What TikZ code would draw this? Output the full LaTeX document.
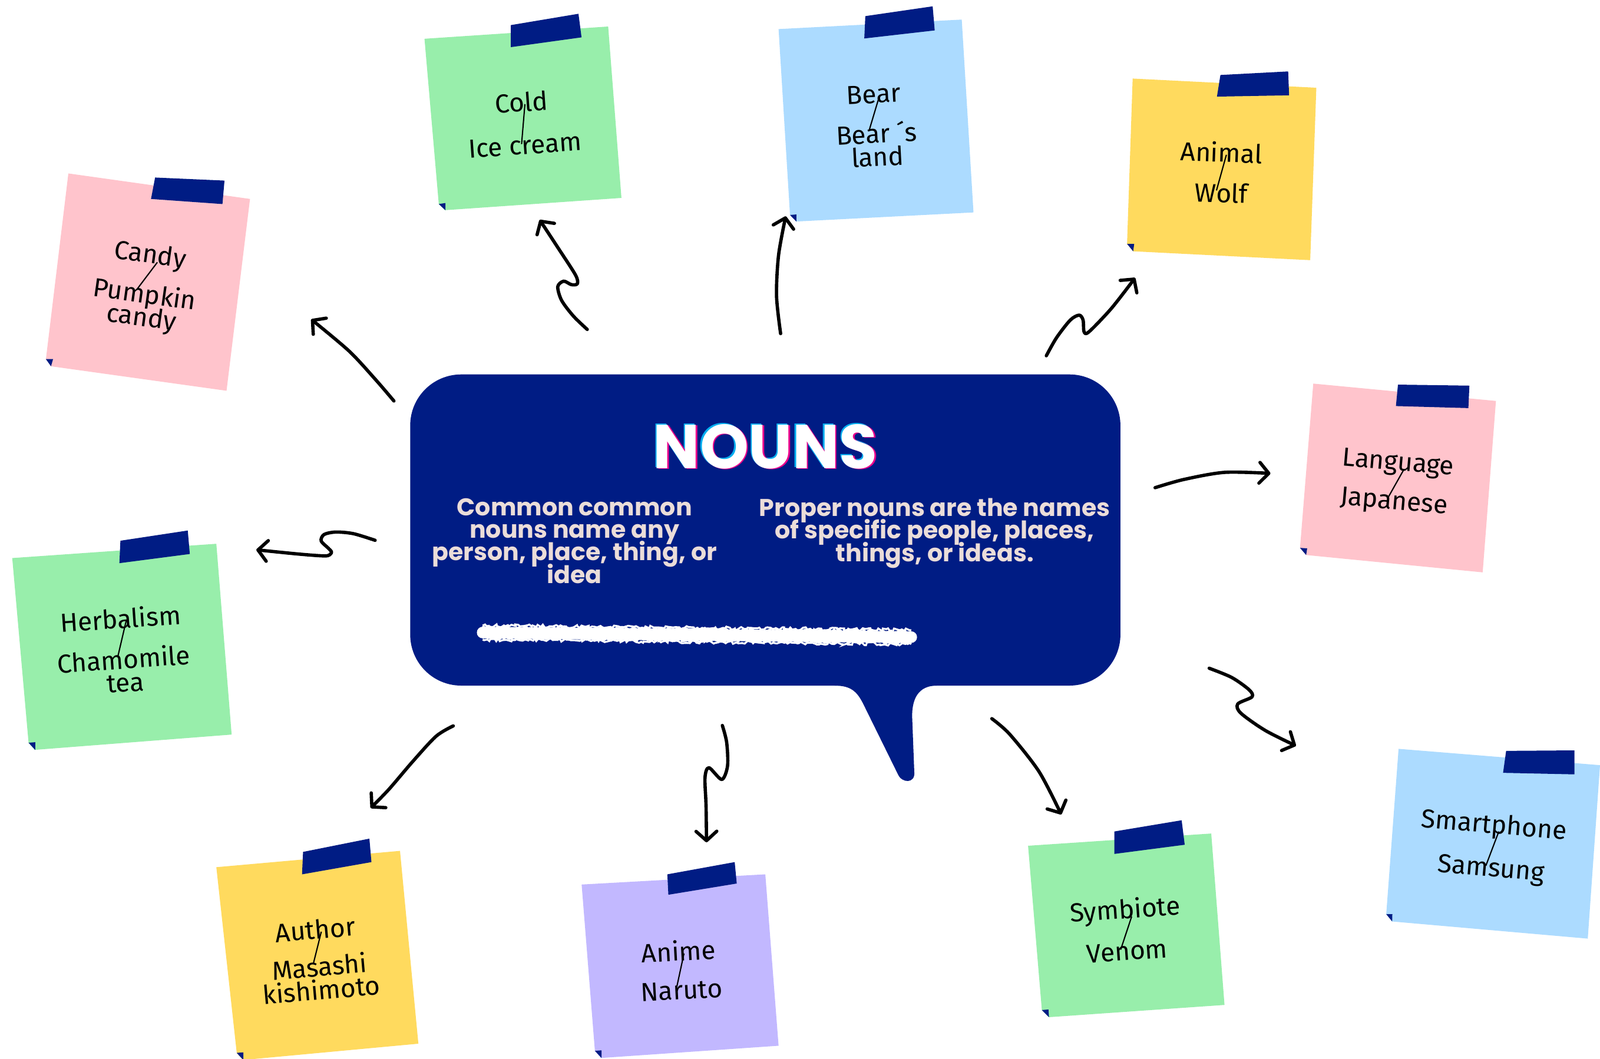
\documentclass[tikz,border=0pt]{standalone}
\usepackage{fontspec}
\setmainfont{Fira Sans}
\newfontfamily\bubblefont{Poppins}
\usetikzlibrary{arrows.meta, calc, decorations.pathmorphing}

\definecolor{navy}{HTML}{001C84}
\definecolor{notepink}{HTML}{FFC4CC}
\definecolor{notegreen}{HTML}{98EEAB}
\definecolor{notesky}{HTML}{ACDBFF}
\definecolor{noteyellow}{HTML}{FFDA5E}
\definecolor{notelilac}{HTML}{C2B8FF}
\definecolor{chalk}{HTML}{EBDDD9}

\newcommand{\tightlines}{\lineskiplimit-20pt\relax}

\begin{document}
\begin{tikzpicture}
	[x=0.01732cm, y=-0.01732cm,
	>={Straight Barb[length=4.5pt,width=10pt,round]},
	scribble/.style={line width=1.6pt, line cap=round, line join=round},
	tape/.style={fill=navy},
	word/.style={inner sep=0pt, align=center, font={\fontsize{12.6}{11.2}\selectfont\tightlines}},
	slash/.style={line width=0.6pt, shorten <=-4pt, shorten >=-4pt},
	body/.style={inner sep=0pt, align=center, text=chalk, font={\bubblefont\bfseries\fontsize{11.7}{10.9}\selectfont\tightlines}},
	title/.style={inner sep=0pt, font=\bubblefont\bfseries\fontsize{30}{30}\selectfont}]

	\useasboundingbox (0,0) rectangle (1568,1038);
	\fill[white] (0,0) rectangle (1568,1038);
	\clip (0,0) rectangle (1568,1038);

	% speech bubble
	\fill[navy, rounded corners=0.866cm] (402,367) rectangle (1098,672);
	\fill[navy] (818,660) -- (818,672) .. controls (834,672) and (840,678) .. (846,690)
		-- (880,759) .. controls (884,768) and (897,768) .. (896,757)
		-- (894,705) .. controls (893,685) and (900,672) .. (918,672) -- (918,660) -- cycle;

	\node[title, text=cyan] (title-c) at ($(750,437.5)+(-0.7pt,0.3pt)$) {NOUNS};
	\node[title, text=magenta] (title-m) at ($(750,437.5)+(0.7pt,-0.3pt)$) {NOUNS};
	\node[title, text=white] (title) at (750,437.5) {NOUNS};

	\node[body, anchor=north] (common) at (563,488) {Common common\\nouns name any\\person, place, thing, or\\idea};
	\node[body, anchor=north] (proper) at (916,488) {Proper nouns are the names\\of specific people, places,\\things, or ideas.};

	% chalk line
	\coordinate (chalk-l) at (473,620);
	\coordinate (chalk-r) at (893,624.5);
	\draw[white, line width=5.6pt, line cap=round] (chalk-l) -- (chalk-r);
	\foreach \o in {-3.4,-2.6,2.6,3.4}
		\draw[white, line width=0.9pt, decorate, decoration={random steps, segment length=1.1pt, amplitude=0.8pt}]
			($(chalk-l)+(0,\o pt)$) -- ($(chalk-r)+(0,\o pt)$);

	% sticky notes
	\fill[notepink] (67,170) -- (245,195) -- (222,383) -- (50,359) -- (45,352) -- cycle;
	\fill[tape] (152,174) -- (220,177) -- (218,200) -- (148,195) -- cycle;
	\fill[navy] (45,352) -- ++(7,0) -- ++(-2,7) -- cycle;

	\fill[notegreen] (416,38) -- (596,26) -- (609,194) -- (436,206) -- (430,200) -- cycle;
	\fill[tape] (500.6,24.6) -- (566.9,13.5) -- (569.9,36.6) -- (500.6,46.2) -- cycle;
	\fill[navy] (430,200) -- ++(6.5,-1) -- ++(0,7) -- cycle;

	\fill[notesky] (763,28.5) -- (942.5,19.2) -- (954,208.2) -- (780.5,217.1) -- (774.2,210.7) -- cycle;
	\fill[tape] (848,15.8) -- (914,6.2) -- (916,29.8) -- (847,37.7) -- cycle;
	\fill[navy] (774.2,210.7) -- ++(6.3,-0.5) -- ++(0,7) -- cycle;

	\fill[noteyellow] (1110,77) -- (1290,86) -- (1284,255) -- (1110.5,246.3) -- (1104.5,239) -- cycle;
	\fill[tape] (1196,73.5) -- (1262.4,70) -- (1263.3,93.4) -- (1192.6,94.7) -- cycle;
	\fill[navy] (1104.5,239) -- ++(7,0) -- ++(-1,7.3) -- cycle;

	\fill[notepink] (1287,376) -- (1466,393) -- (1453,561) -- (1280,544) -- (1274,537) -- cycle;
	\fill[tape] (1370,377) -- (1440,378) -- (1439,400) -- (1368,398) -- cycle;
	\fill[navy] (1274,537) -- ++(7,0.5) -- ++(-1,6.5) -- cycle;

	\fill[notesky] (1370.6,734) -- (1568,750) -- (1556,920) -- (1364.3,903.2) -- (1358.5,896) -- cycle;
	\fill[tape] (1476,736) -- (1543,735.5) -- (1543,759) -- (1473,757.5) -- cycle;
	\fill[navy] (1358.5,896) -- ++(6,0) -- ++(-0.2,7.2) -- cycle;

	\fill[notegreen] (1007.5,829) -- (1187,817) -- (1200,985) -- (1028,997) -- (1021,990) -- cycle;
	\fill[tape] (1092,815) -- (1158,804) -- (1161,828) -- (1092,837) -- cycle;
	\fill[navy] (1021,990) -- ++(6.5,-0.5) -- ++(0.5,7.5) -- cycle;

	\fill[notelilac] (570,867) -- (750,857) -- (763,1025) -- (589,1037) -- (583,1030) -- cycle;
	\fill[tape] (654,857) -- (720,845) -- (722,866) -- (655,877) -- cycle;
	\fill[navy] (583,1030) -- ++(6.5,-0.5) -- ++(0,7.5) -- cycle;

	\fill[noteyellow] (212,850) -- (392,834) -- (410,1023) -- (238,1039) -- (232,1032) -- cycle;
	\fill[tape] (297,835) -- (362,822) -- (364,845) -- (296,857) -- cycle;
	\fill[navy] (232,1032) -- ++(6.5,-0.5) -- ++(0,7.5) -- cycle;

	\fill[notegreen] (12,547) -- (212,533) -- (227,720) -- (34,735) -- (28,728) -- cycle;
	\fill[tape] (118,530) -- (184,520) -- (186,543) -- (117,552) -- cycle;
	\fill[navy] (28,728) -- ++(6.5,-0.5) -- ++(0,7.5) -- cycle;

	% words on the notes
	\node[word, rotate=-8] (candy) at (147,251) {Candy};
	\node[word, rotate=-8] (pumpkin) at (140,301) {Pumpkin\\candy};
	\draw[slash] ([xshift=2pt]candy.south) -- ([xshift=-2pt]pumpkin.north);

	\node[word, rotate=4] (cold) at (511,100) {Cold};
	\node[word, rotate=4] (icecream) at (514.5,142.5) {Ice cream};
	\draw[slash] ([xshift=1pt]cold.south) -- ([xshift=-1pt]icecream.north);

	\node[word, rotate=3] (bear) at (856,92.4) {Bear};
	\node[word, rotate=3] (bearsland) at (859.5,141.5) {Bear ´s\\land};
	\draw[slash] ([xshift=1.5pt]bear.south) -- ([xshift=-2pt]bearsland.north);

	\node[word, rotate=-2] (animal) at (1197,149) {Animal};
	\node[word, rotate=-2] (wolf) at (1197,189) {Wolf};
	\draw[slash] ([xshift=1.5pt]animal.south) -- ([xshift=-1.5pt]wolf.north);

	\node[word, rotate=-5] (language) at (1370,455) {Language};
	\node[word, rotate=-5] (japanese) at (1366,493) {Japanese};
	\draw[slash] ([xshift=1.5pt]language.south) -- ([xshift=-1.5pt]japanese.north);

	\node[word, rotate=-5] (smartphone) at (1464,810) {Smartphone};
	\node[word, rotate=-5] (samsung) at (1461,853) {Samsung};
	\draw[slash] ([xshift=1.5pt]smartphone.south) -- ([xshift=-1.5pt]samsung.north);

	\node[word, rotate=4] (symbiote) at (1102.5,893) {Symbiote};
	\node[word, rotate=4] (venom) at (1104.5,932.5) {Venom};
	\draw[slash] ([xshift=1.5pt]symbiote.south) -- ([xshift=-1.5pt]venom.north);

	\node[word, rotate=3] (anime) at (665,932) {Anime};
	\node[word, rotate=3] (naruto) at (668,971) {Naruto};
	\draw[slash] ([xshift=1.5pt]anime.south) -- ([xshift=-1.5pt]naruto.north);

	\node[word, rotate=5] (author) at (309,911) {Author};
	\node[word, rotate=5] (kishimoto) at (314,958.5) {Masashi\\kishimoto};
	\draw[slash] ([xshift=1.5pt]author.south) -- ([xshift=-1.5pt]kishimoto.north);

	\node[word, rotate=4] (herbalism) at (118,606) {Herbalism};
	\node[word, rotate=4] (chamomile) at (122,657) {Chamomile\\tea};
	\draw[slash] ([xshift=1.5pt]herbalism.south) -- ([xshift=-1.5pt]chamomile.north);

	% arrows out of the bubble
	\coordinate (to-candy-s) at (386,393);
	\coordinate (to-candy-e) at (305,313);
	\coordinate (to-cold-s) at (575.5,322.9);
	\coordinate (to-cold-e) at (528.9,215.5);
	\coordinate (to-bear-s) at (765,327);
	\coordinate (to-bear-e) at (770,212);
	\coordinate (to-animal-s) at (1025.4,348.7);
	\coordinate (to-animal-e) at (1112.4,272.3);
	\coordinate (to-language-s) at (1132,478);
	\coordinate (to-language-e) at (1245,464);
	\coordinate (to-phone-s) at (1185,655);
	\coordinate (to-phone-e) at (1270,731);
	\coordinate (to-venom-s) at (972,704.4);
	\coordinate (to-venom-e) at (1040,798.3);
	\coordinate (to-naruto-s) at (707.9,711.1);
	\coordinate (to-naruto-e) at (692.4,825.6);
	\coordinate (to-author-s) at (444.2,711.5);
	\coordinate (to-author-e) at (363.3,792);
	\coordinate (to-herb-s) at (367.6,529.6);
	\coordinate (to-herb-e) at (251.2,538.9);

	\draw[scribble, ->] plot[smooth] coordinates {(to-candy-s) (368,372) (342,344) (to-candy-e)};
	\draw[scribble, ->] plot[smooth] coordinates {(to-cold-s) (562,309.9) (550.4,294.5) (546.6,281) (552.4,275.6) (560,279) (565.8,278.1) (563.9,269.4) (546.6,242.5) (to-cold-e)};
	\draw[scribble, ->] plot[smooth] coordinates {(to-bear-s) (761,290) (763,250) (to-bear-e)};
	\draw[scribble, ->] plot[smooth] coordinates {(to-animal-s) (1035.4,331) (1048.9,313.7) (1057.6,308.9) (1061.4,313.7) (1062.4,325.2) (1067.2,325.2) (1089.3,302.1) (to-animal-e)};
	\draw[scribble, ->] plot[smooth] coordinates {(to-language-s) (1160,470) (1200,463) (to-language-e)};
	\draw[scribble, ->] plot[smooth] coordinates {(to-phone-s) (1207,664) (1224,676) (1227,683) (1213,690) (1216,699) (1240,716) (to-phone-e)};
	\draw[scribble, ->] plot[smooth] coordinates {(to-venom-s) (989.6,719.8) (1018.3,756.4) (to-venom-e)};
	\draw[scribble, ->] plot[smooth] coordinates {(to-naruto-s) (712.1,727.5) (713,750.6) (707.3,764) (694.8,752.5) (690.9,762.1) (691.9,789.1) (to-naruto-e)};
	\draw[scribble, ->] plot[smooth] coordinates {(to-author-s) (427.3,721.7) (404.2,746.7) (381.1,773.7) (to-author-e)};
	\draw[scribble, ->] plot[smooth] coordinates {(to-herb-s) (346.4,523.1) (329.1,521.5) (317.6,523.9) (314.7,530.2) (321.4,537) (324.9,541.2) (321.4,544.6) (311.8,544.6) (288.7,542.7) (to-herb-e)};

\end{tikzpicture}
\end{document}
